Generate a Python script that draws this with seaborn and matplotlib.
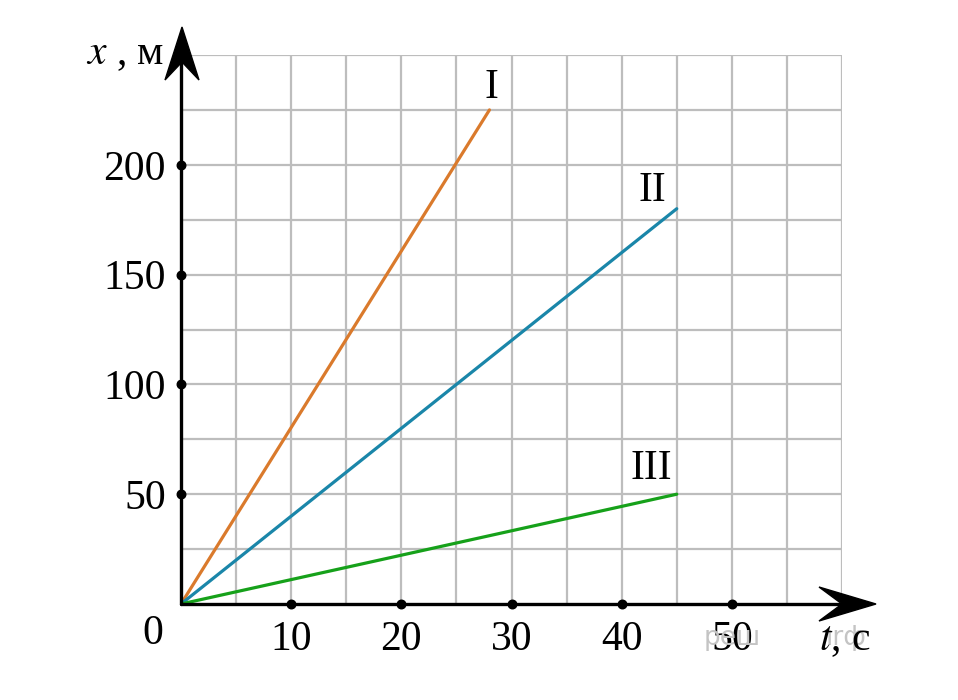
import numpy as np
import pandas as pd
import matplotlib
matplotlib.use("Agg")
import matplotlib.pyplot as plt
from matplotlib.patches import Polygon
import seaborn as sns

# ---- data ----
series = ["I", "II", "III"]
t_end = [28, 45, 45]          # c
x_end = [225, 180, 50]        # м
colors = ["#DA7A2C", "#1A86A9", "#16A11A"]
x_ticks = [10, 20, 30, 40, 50]
y_ticks = [50, 100, 150, 200]
t_lim = 60
x_lim = 250

rows = []
for s, te, xe in zip(series, t_end, x_end):
    rows.append({"t": 0, "x": 0, "s": s})
    rows.append({"t": te, "x": xe, "s": s})
df = pd.DataFrame(rows)

sns.set_style("white")
plt.rcParams["font.family"] = ["Liberation Serif", "DejaVu Serif"]
plt.rcParams["mathtext.fontset"] = "stix"
plt.rcParams["text.color"] = "black"
plt.rcParams["xtick.color"] = "black"
plt.rcParams["ytick.color"] = "black"

W, H = 958, 700
fig = plt.figure(figsize=(W / 100, H / 100), dpi=100)
x0p, x1p, y0p, y1p = 181, 842, 604, 55
ax = fig.add_axes([x0p / W, 1 - y0p / H, (x1p - x0p) / W, (y0p - y1p) / H])

sns.lineplot(data=df, x="t", y="x", hue="s", palette=colors, linewidth=2.3,
             legend=False, ax=ax, zorder=4)

ax.set_xlim(0, t_lim)
ax.set_ylim(0, x_lim)
for sp in ax.spines.values():
    sp.set_visible(False)

# grid every 5 c and every 25 м
for gx in np.arange(5, t_lim + 1, 5):
    ax.axvline(gx, color="#BDBDBD", linewidth=1.6, zorder=1)
for gy in np.arange(25, x_lim + 1, 25):
    ax.axhline(gy, color="#BDBDBD", linewidth=1.6, zorder=1)

ax.set_xticks(x_ticks)
ax.set_yticks(y_ticks)
ax.set_xticklabels([str(v) for v in x_ticks])
ax.set_yticklabels([str(v) for v in y_ticks])
ax.tick_params(which="both", length=0, colors="black")
ax.tick_params(axis="x", pad=12, labelsize=30)
ax.tick_params(axis="y", pad=11, labelsize=30)
ax.grid(False)
ax.set_xlabel("")
ax.set_ylabel("")

# pixel -> data helpers for decorations
dxp = t_lim / (x1p - x0p)
dyp = x_lim / (y0p - y1p)
def P(px, py):
    return ((px - x0p) * dxp, (y0p - py) * dyp)

# axes lines
ax.plot(*zip(P(181, 604), P(845, 604)), color="black", lw=2.4, clip_on=False, zorder=5)
ax.plot(*zip(P(181, 604), P(181, 60)), color="black", lw=2.4, clip_on=False, zorder=5)
# arrowheads
ax.add_patch(Polygon([P(876, 604), P(819, 587), P(842, 604), P(819, 621)],
                     closed=True, color="black", clip_on=False, zorder=6))
ax.add_patch(Polygon([P(182, 27), P(165, 80), P(182, 62), P(199, 80)],
                     closed=True, color="black", clip_on=False, zorder=6))

# tick dots
ax.scatter(x_ticks, [0] * len(x_ticks), s=38, color="black", zorder=7, clip_on=False)
ax.scatter([0] * len(y_ticks), y_ticks, s=38, color="black", zorder=7, clip_on=False)

# origin label
ax.text(*P(153, 634), "0", fontsize=30, ha="center", va="center", color="black")

# series labels
lab_pos = [(491, 88), (652, 191), (651, 469)]
for s, (px, py) in zip(series, lab_pos):
    ax.text(*P(px, py), s, fontsize=30, ha="center", va="center", zorder=8, color="black")

# watermark (faint)
ax.text(*P(732, 638), "реш", fontsize=19, color="#C4C4C4", ha="center", va="center",
        family=["DejaVu Sans"], zorder=2, clip_on=False)
ax.text(*P(846, 638), "ırф", fontsize=19, color="#C4C4C4", ha="center", va="center",
        family=["DejaVu Sans"], zorder=2, clip_on=False)

# axis labels
ax.text(*P(125, 54), r"$\mathit{x}$ , м", fontsize=30, ha="center", va="center",
        clip_on=False, color="black")
ax.text(*P(845, 640), r"$\mathit{t}$, с", fontsize=30, ha="center", va="center",
        clip_on=False, zorder=9, color="black")

fig.savefig("out.png", dpi=100, facecolor="white")
